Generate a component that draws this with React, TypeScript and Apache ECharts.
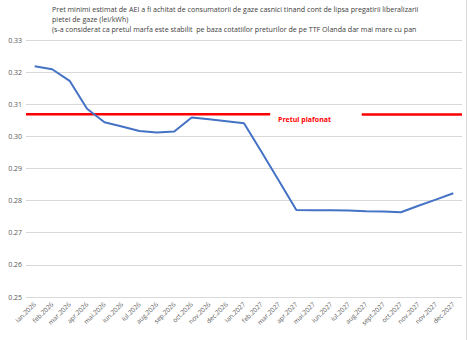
import React, { useEffect, useRef } from "react";
import * as echarts from "echarts";

const categories = [
  "ian.2026", "feb.2026", "mar.2026", "apr.2026", "mai.2026", "iun.2026",
  "iul.2026", "aug.2026", "sep.2026", "oct.2026", "nov.2026", "dec.2026",
  "ian.2027", "feb.2027", "mar.2027", "apr.2027", "mai.2027", "iun.2027",
  "iul.2027", "aug.2027", "sept.2027", "oct.2027", "nov.2027", "nov.2027", "dec.2027",
];

const estimatedPrice = [
  0.3218, 0.3209, 0.3173, 0.3086, 0.3044, 0.3031, 0.3017, 0.3012, 0.3015,
  0.3059, 0.3053, 0.3047, 0.3041, 0.2952, 0.2862, 0.2771, 0.2770, 0.2770,
  0.2769, 0.2767, 0.2766, 0.2764, 0.2784, 0.2803, 0.2823,
];

// cap price segments, x in category-edge units (0 .. 25)
const capLeft = [[0, 0.3069], [14, 0.3069]];
const capRight = [[19.25, 0.3068], [25, 0.3068]];

const yTicks = { min: 0.25, max: 0.33, interval: 0.01 };

const titleLines = [
  "Pret minimi estimat de AEI a fi achitat de consumatorii de gaze casnici tinand cont de lipsa pregatirii liberalizarii",
  "pietei de gaze (lei/kWh)",
  "(s-a considerat ca pretul marfa este stabilit  pe baza cotatiilor preturilor de pe TTF Olanda dar mai mare cu pan",
];

const capLabel = "Pretul plafonat";

export default function App() {
  const ref = useRef<HTMLDivElement>(null);
  useEffect(() => {
    if (!ref.current) return;
    const chart = echarts.init(ref.current, undefined, { renderer: "svg" });
    const font = "'Open Sans', 'Noto Sans', sans-serif";
    chart.setOption({
      animation: false,
      backgroundColor: "#ffffff",
      textStyle: { fontFamily: font },
      grid: { left: 26, right: 6, top: 40, bottom: 43, containLabel: false },
      xAxis: [
        {
          type: "category",
          data: categories,
          boundaryGap: true,
          axisLine: { show: false },
          axisTick: { show: false },
          axisLabel: {
            rotate: 45,
            interval: 0,
            fontSize: 6.5,
            color: "#595959",
            fontFamily: font,
            margin: 6,
          },
        },
        {
          type: "value",
          min: 0,
          max: 25,
          show: false,
        },
      ],
      yAxis: {
        type: "value",
        min: yTicks.min,
        max: yTicks.max,
        interval: yTicks.interval,
        axisLine: { show: false },
        axisTick: { show: false },
        splitLine: { lineStyle: { color: "#d9d9d9", width: 1 } },
        axisLabel: {
          fontSize: 7,
          color: "#595959",
          fontFamily: font,
          margin: 4,
          formatter: (v: number) => v.toFixed(2),
        },
      },
      series: [
        {
          type: "line",
          data: estimatedPrice,
          symbol: "none",
          lineStyle: { color: "#4472C4", width: 2 },
          z: 3,
        },
        {
          type: "line",
          xAxisIndex: 1,
          data: capLeft,
          symbol: "none",
          lineStyle: { color: "#ff0000", width: 2.5 },
          z: 2,
        },
        {
          type: "line",
          xAxisIndex: 1,
          data: capRight,
          symbol: "none",
          lineStyle: { color: "#ff0000", width: 2.5 },
          z: 2,
        },
      ],
      graphic: [
        {
          type: "line",
          shape: { x1: 466.5, y1: 0, x2: 466.5, y2: 340 },
          style: { stroke: "#d9d9d9", lineWidth: 1 },
          silent: true,
        },
        ...titleLines.map((t, i) => ({
          type: "text",
          left: 52,
          top: 5 + i * 10,
          style: {
            text: t,
            fontSize: 7.1,
            fill: "#404040",
            fontFamily: font,
          },
        })),
        {
          type: "text",
          left: 278,
          top: 116,
          style: {
            text: capLabel,
            fontSize: 7,
            fontWeight: "bold",
            fill: "#ff0000",
            fontFamily: font,
          },
        },
      ],
    });
    return () => chart.dispose();
  }, []);
  return (
    <div
      ref={ref}
      style={{ position: "fixed", left: 0, top: 0, width: 468, height: 340 }}
    />
  );
}
